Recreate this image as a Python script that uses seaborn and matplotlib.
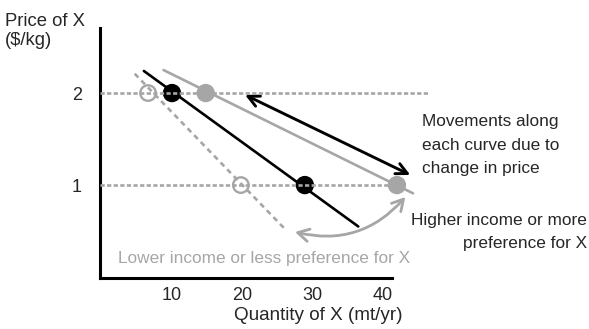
import matplotlib
matplotlib.use("Agg")
import matplotlib.pyplot as plt
import pandas as pd
import seaborn as sns

# === data ===
prices = [2, 1]
qty_base = [10.0, 28.9]     # black dots, original demand
qty_high = [14.8, 42.0]     # grey dots, higher income
qty_low = [6.6, 19.8]       # open circles, lower income

# end points of the three demand curves (quantity, price)
base_curve_q = [6.0, 36.5]
base_curve_p = [2.24, 0.55]
high_curve_q = [8.8, 44.3]
high_curve_p = [2.25, 0.91]
low_curve_q = [4.7, 26.1]
low_curve_p = [2.21, 0.52]

# how far the dotted price guides run to the right
guide_end = [46.4, 42.0]

# arrows: (quantity, price) of tail and head
move_arrow_q = [20.4, 43.9]
move_arrow_p = [1.98, 1.11]
shift_arrow_q = [27.5, 43.2]
shift_arrow_p = [0.49, 0.87]

x_ticks = [10, 20, 30, 40]
y_ticks = [1, 2]

GREY = "#a6a6a6"
W, H = 589, 329


def fig_xy(px, py):
    # pixel position of the reference -> figure fraction
    return px / W, 1 - py / H


sns.set_style("white")
plt.rcParams["font.family"] = ["Liberation Sans", "DejaVu Sans"]

fig = plt.figure(figsize=(W / 100, H / 100), dpi=100)
ax = fig.add_axes([100 / W, 51 / H, 292 / W, 250 / H])

# --- demand curves ---
curves = pd.DataFrame({
    "q": base_curve_q + high_curve_q + low_curve_q,
    "p": base_curve_p + high_curve_p + low_curve_p,
    "curve": ["base"] * 2 + ["high"] * 2 + ["low"] * 2,
})
sns.lineplot(
    data=curves, x="q", y="p", hue="curve", style="curve",
    palette={"base": "black", "high": GREY, "low": GREY},
    dashes={"base": "", "high": "", "low": (2.0, 1.6)},
    linewidth=1.9, sort=False, estimator=None, legend=False,
    ax=ax, clip_on=False, zorder=2,
)

# --- points ---
sns.scatterplot(x=qty_base, y=prices, color="black", s=175, edgecolor="none",
                ax=ax, clip_on=False, zorder=3)
sns.scatterplot(x=qty_high, y=prices, color=GREY, s=175, edgecolor="none",
                ax=ax, clip_on=False, zorder=3)
ax.scatter(qty_low, prices, s=125, facecolors="none", edgecolors=GREY,
           linewidths=1.7, clip_on=False, zorder=3)

# --- dotted price guides (drawn over the dots) ---
for p, end in zip(prices, guide_end):
    ax.plot([-0.24, end], [p, p], color=GREY, lw=1.9, linestyle=(0, (1.6, 0.9)),
            clip_on=False, zorder=4)

# --- arrows ---
ax.annotate("", xy=(move_arrow_q[1], move_arrow_p[1]),
            xytext=(move_arrow_q[0], move_arrow_p[0]),
            arrowprops=dict(arrowstyle="<->,head_length=0.8,head_width=0.4",
                            color="black", lw=2.1, shrinkA=0, shrinkB=0),
            annotation_clip=False)
ax.annotate("", xy=(shift_arrow_q[1], shift_arrow_p[1]),
            xytext=(shift_arrow_q[0], shift_arrow_p[0]),
            arrowprops=dict(arrowstyle="<->,head_length=0.8,head_width=0.45",
                            color=GREY, lw=2, shrinkA=0, shrinkB=0,
                            connectionstyle="arc3,rad=0.3"),
            annotation_clip=False)

# --- axes ---
ax.set_xlim(-0.24, 41.3)
ax.set_ylim(-0.01, 2.707)
ax.set_xticks(x_ticks)
ax.set_yticks(y_ticks)
ax.tick_params(axis="both", length=0, labelsize=13)
ax.tick_params(axis="x", pad=6.5)
ax.tick_params(axis="y", pad=13)
ax.set_xlabel("")
ax.set_ylabel("")
for side in ["top", "right"]:
    ax.spines[side].set_visible(False)
for side in ["left", "bottom"]:
    ax.spines[side].set_linewidth(2.2)
    ax.spines[side].set_color("black")

# --- texts (va="baseline" pins the last line) ---
fig.text(*fig_xy(5, 13), "Price of X\n($/kg)", ha="left", va="top",
         fontsize=13.3, linespacing=1.15)
fig.text(*fig_xy(318, 316), "Quantity of X (mt/yr)", ha="center", va="center",
         fontsize=13.6)
fig.text(*fig_xy(118, 263), "Lower income or less preference for X",
         ha="left", va="baseline", fontsize=12.4, color=GREY)
fig.text(*fig_xy(422, 173), "Movements along\neach curve due to\nchange in price",
         ha="left", va="baseline", fontsize=12.4, linespacing=1.7)
fig.text(*fig_xy(587, 248), "Higher income or more\npreference for X",
         ha="right", va="baseline", multialignment="right", fontsize=12.4,
         linespacing=1.7)

fig.savefig("out.png", dpi=100)
